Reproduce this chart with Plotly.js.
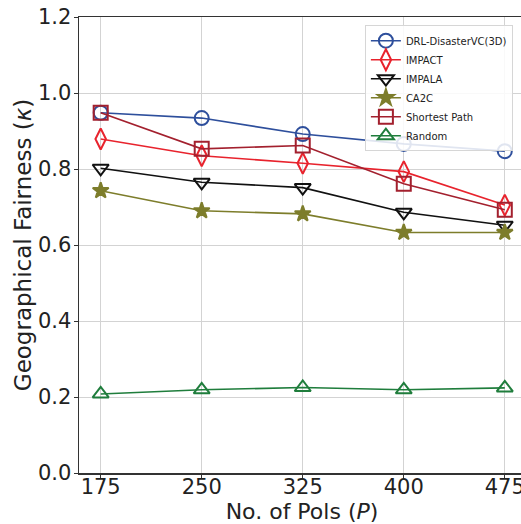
<!DOCTYPE html>
<html>
<head>
<meta charset="utf-8">
<script src="https://cdn.plot.ly/plotly-3.0.1.min.js"></script>
<style>html,body{margin:0;padding:0;overflow:hidden;background:#fff}</style>
</head>
<body>
<div id="chart" style="width:545px;height:524px"></div>
<script>
const pois = [175, 250, 325, 400, 475];
const seriesNames = ["DRL-DisasterVC(3D)", "IMPACT", "IMPALA", "CA2C", "Shortest Path", "Random"];
const drlDisasterVC = [0.948, 0.934, 0.892, 0.866, 0.847];
const impact = [0.879, 0.835, 0.815, 0.793, 0.705];
const impala = [0.802, 0.765, 0.751, 0.686, 0.652];
const ca2c = [0.743, 0.690, 0.682, 0.633, 0.633];
const shortestPath = [0.948, 0.853, 0.862, 0.761, 0.693];
const randomPolicy = [0.208, 0.219, 0.225, 0.219, 0.224];
const yTicks = [0.0, 0.2, 0.4, 0.6, 0.8, 1.0, 1.2];

const values = [drlDisasterVC, impact, impala, ca2c, shortestPath, randomPolicy];
const colors = ["#2e4f9c", "#e8232d", "#111111", "#7d7d2b", "#a3202e", "#1f7d3c"];
const symbols = ["circle-open", "diamond-tall-open", "triangle-down-open", "star", "square-open", "triangle-up-open"];
const sizes = [14, 15, 14, 12, 14, 14];

const traces = values.map((v, i) => ({
  x: pois, y: v, name: seriesNames[i], type: "scatter", mode: "lines+markers",
  line: {color: colors[i], width: 1.6},
  marker: {symbol: symbols[i], size: sizes[i], color: colors[i], line: {color: colors[i], width: 2}}
}));

const fontFam = "DejaVu Sans, sans-serif";
const layout = {
  width: 545, height: 524,
  margin: {l: 79, r: 20, t: 17, b: 51},
  paper_bgcolor: "#fff", plot_bgcolor: "#fff",
  font: {family: fontFam, color: "#222"},
  showlegend: true,
  legend: {x: 0.641, y: 0.982, xanchor: "left", yanchor: "top",
    font: {family: fontFam, size: 10, color: "#222"},
    bgcolor: "rgba(255,255,255,0.85)", bordercolor: "#d6d6d6", borderwidth: 1, itemwidth: 30},
  xaxis: {
    range: [158.9, 490], tickvals: pois, ticktext: pois.map(String),
    showgrid: true, gridcolor: "#d3d3d3", gridwidth: 1,
    showline: true, linecolor: "#333", linewidth: 1.5, mirror: true,
    ticks: "outside", ticklen: 4, tickcolor: "#333", ticklabelstandoff: -10,
    tickfont: {family: fontFam, size: 21, color: "#222"},
    zeroline: false,
    title: {text: "No. of Pols (<i>P</i>)", font: {family: fontFam, size: 22, color: "#222"}, standoff: 6}
  },
  yaxis: {
    range: [0, 1.2], tickvals: yTicks, ticktext: yTicks.map(v => v.toFixed(1)),
    showgrid: true, gridcolor: "#d3d3d3", gridwidth: 1,
    showline: true, linecolor: "#333", linewidth: 1.5, mirror: false,
    ticks: "outside", ticklen: 4, tickcolor: "#333", ticklabelstandoff: -2,
    tickfont: {family: fontFam, size: 21, color: "#222"},
    zeroline: false,
    title: {text: "Geographical Fairness (<i>κ</i>)", font: {family: fontFam, size: 23, color: "#222"}, standoff: 0}
  }
};
Plotly.newPlot("chart", traces, layout, {staticPlot: true, displayModeBar: false});
</script>
</body>
</html>
